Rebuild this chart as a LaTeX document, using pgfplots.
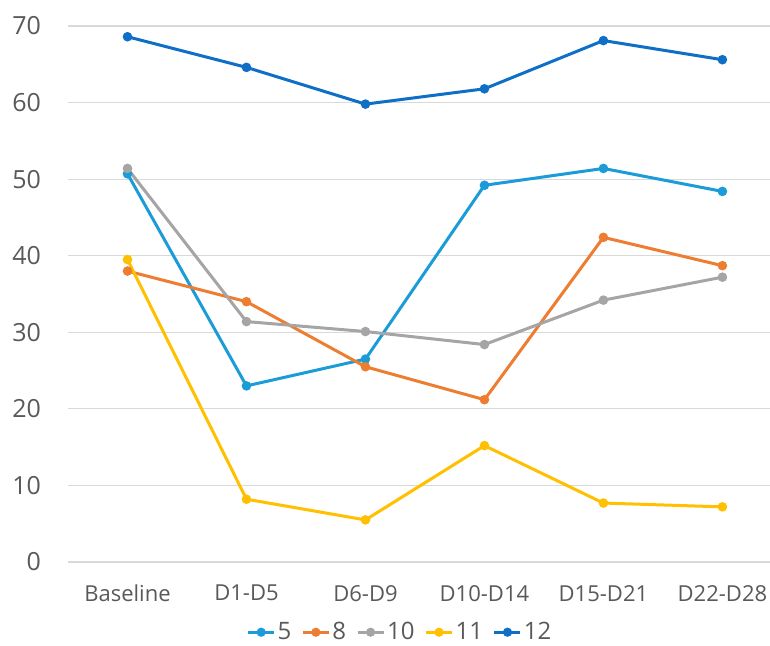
\documentclass[border=0pt]{standalone}
\usepackage{pgfplots}
\pgfplotsset{compat=1.18}
\usepackage{fontspec}
\setmainfont{Open Sans}
\definecolor{cA}{HTML}{1B9BD8}
\definecolor{cB}{HTML}{ED7D31}
\definecolor{cC}{HTML}{A5A5A5}
\definecolor{cD}{HTML}{FFC000}
\definecolor{cE}{HTML}{0F6FC6}
\definecolor{txt}{HTML}{595959}
\definecolor{grd}{HTML}{D9D9D9}
\begin{document}
\begin{tikzpicture}
\useasboundingbox (-34pt,-41.5pt) rectangle (351pt,281pt);
\begin{axis}[
  scale only axis, width=351pt, height=268pt,
  at={(0,0)}, anchor=south west,
  xmin=-0.5, xmax=5.4, ymin=0, ymax=70,
  xtick={0,1,2,3,4,5},
  xticklabels={Baseline,D1-D5,D6-D9,D10-D14,D15-D21,D22-D28},
  ytick={0,10,...,70},
  ymajorgrids, major grid style={grd, line width=0.6pt},
  axis line style={draw=none},
  major tick length=0pt,
  tick label style={text=txt},
  xticklabel style={font=\fontsize{11}{13}\selectfont, yshift=-8pt},
  yticklabel style={font=\fontsize{12.5}{14}\selectfont, xshift=-10pt},
  /pgf/number format/assume math mode=true,
  clip=false,
  legend style={at={(0.473,-0.131)}, anchor=center, legend columns=5, draw=none, fill=none,
    font=\fontsize{12}{14}\selectfont, text=txt, inner sep=0pt,
    nodes={inner xsep=1pt},
    /tikz/every even column/.append style={column sep=4pt}},
  legend image code/.code={\draw[#1] (0pt,0pt) -- (13pt,0pt); \fill[#1] (6.5pt,0pt) circle (1.5pt);},
  every axis plot/.append style={line width=1.5pt, mark=*, mark size=1.6pt},
]
\addplot[cA, mark options={fill=cA}] coordinates {(0,50.7) (1,23.0) (2,26.5) (3,49.2) (4,51.4) (5,48.4)};
\addlegendentry{5}
\addplot[cB, mark options={fill=cB}] coordinates {(0,38.0) (1,34.0) (2,25.5) (3,21.2) (4,42.4) (5,38.7)};
\addlegendentry{8}
\addplot[cC, mark options={fill=cC}] coordinates {(0,51.4) (1,31.4) (2,30.1) (3,28.4) (4,34.2) (5,37.2)};
\addlegendentry{10}
\addplot[cD, mark options={fill=cD}] coordinates {(0,39.5) (1,8.2) (2,5.5) (3,15.2) (4,7.7) (5,7.2)};
\addlegendentry{11}
\addplot[cE, mark options={fill=cE}] coordinates {(0,68.6) (1,64.6) (2,59.8) (3,61.8) (4,68.1) (5,65.6)};
\addlegendentry{12}
\end{axis}
\end{tikzpicture}
\end{document}
